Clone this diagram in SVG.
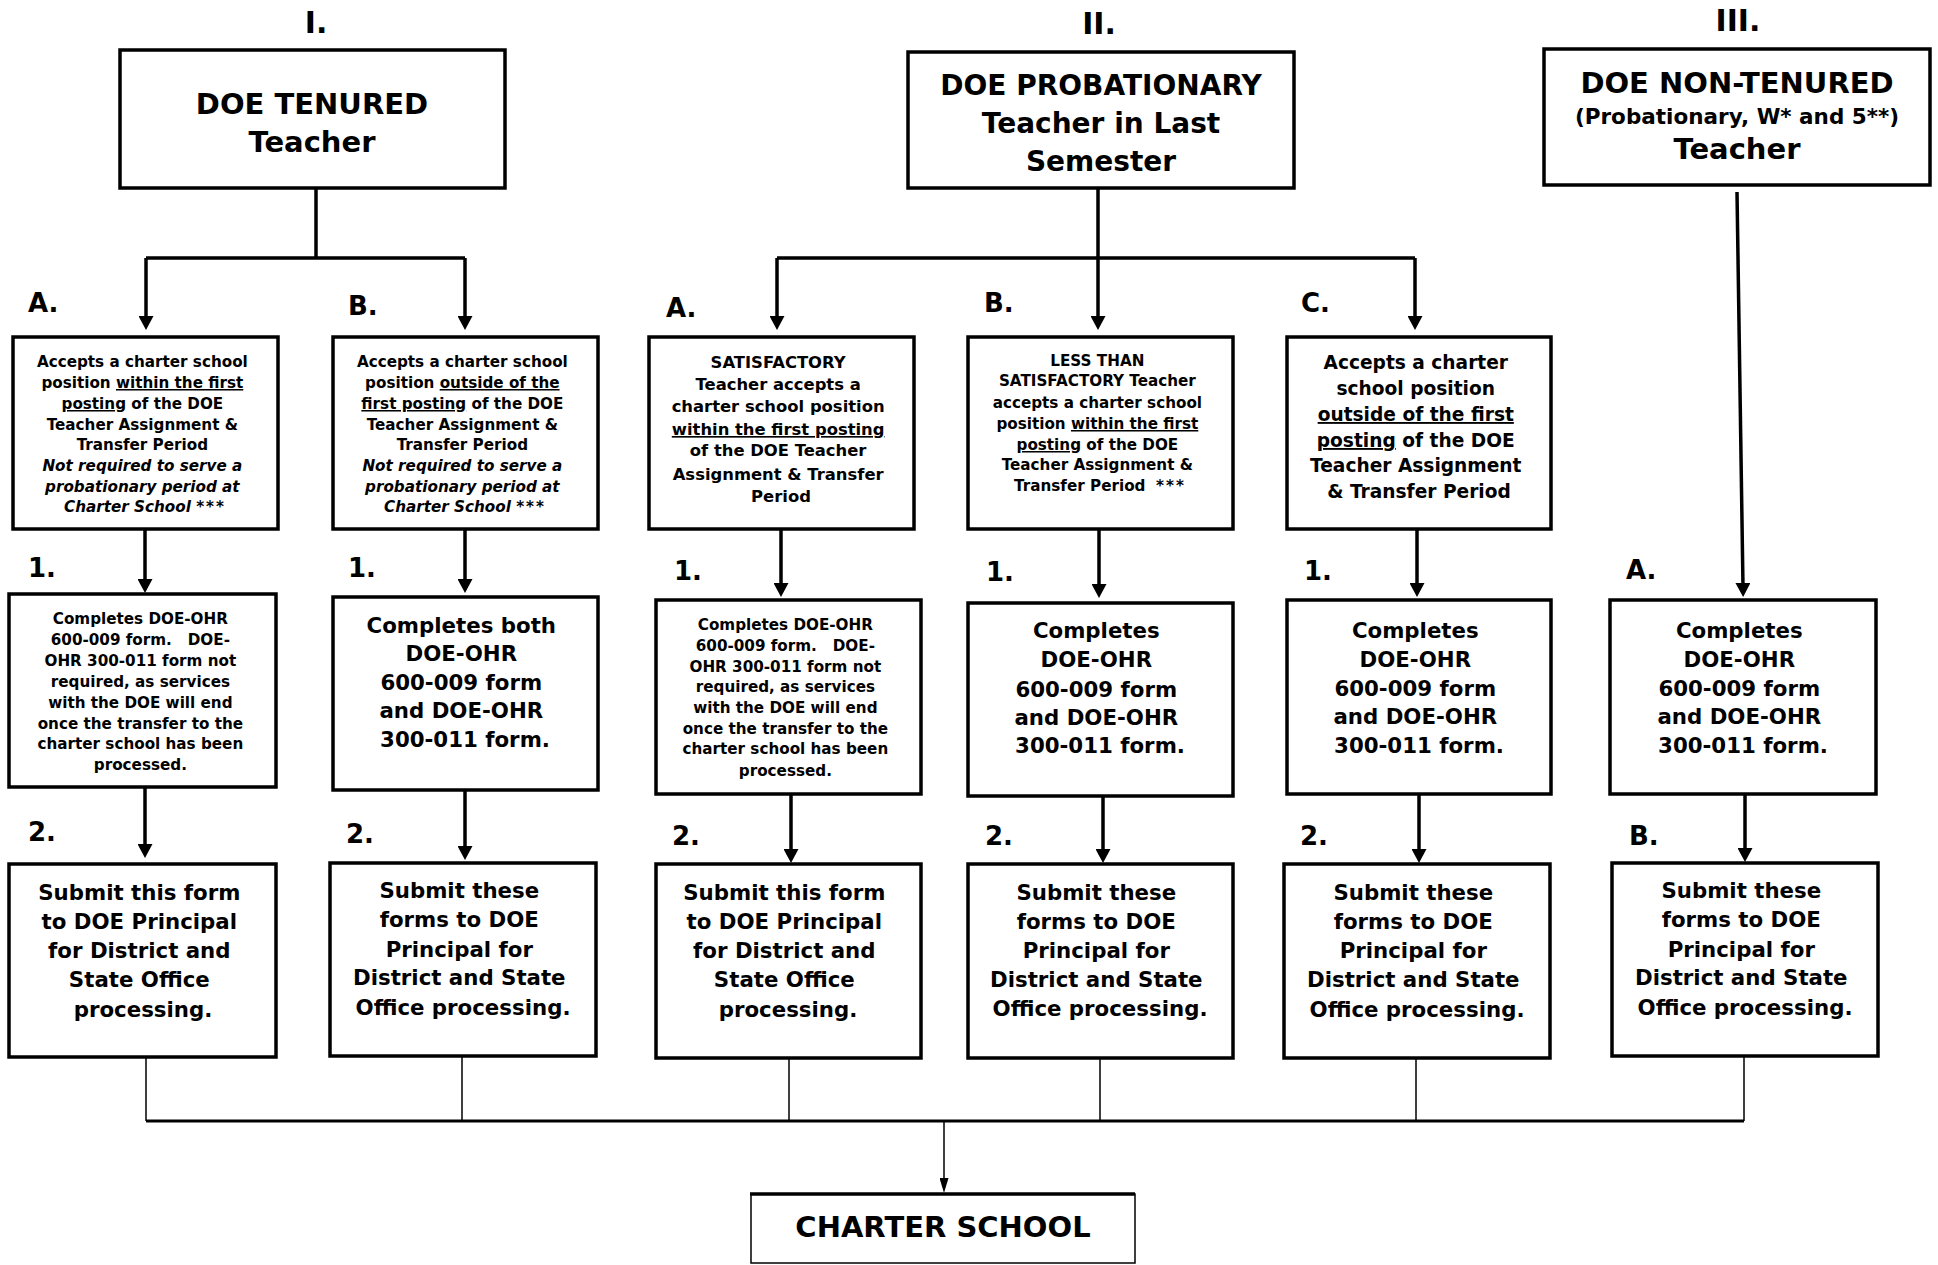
<svg xmlns="http://www.w3.org/2000/svg" width="1938" height="1265" viewBox="0 0 1938 1265">
<style>
.t{font-family:"DejaVu Sans","Liberation Sans",sans-serif;font-weight:bold;text-anchor:middle;fill:#000}
.l{font-family:"DejaVu Sans","Liberation Sans",sans-serif;font-weight:bold;fill:#000;font-size:26px}
.h{font-size:30px}
.big{font-size:29px}
.xs{font-size:15.2px}
.sm{font-size:16.4px}
.md{font-size:18.6px}
.lg{font-size:21.3px}
.i{font-style:italic}
.u{text-decoration:underline}
.st{letter-spacing:2px}
.box{fill:#fff;stroke:#000;stroke-width:3.5}
.thin{fill:#fff;stroke:#000;stroke-width:1.5}
.c{fill:none;stroke:#000;stroke-width:3.5}
.ca{fill:none;stroke:#000;stroke-width:3.5;marker-end:url(#arr)}
.cb{fill:none;stroke:#000;stroke-width:1.5}
</style>
<defs>
<marker id="arr" markerUnits="userSpaceOnUse" markerWidth="14" markerHeight="15" refX="4" refY="7.5" orient="auto"><path d="M0,0 L14,7.5 L0,15 z" fill="#000"/></marker>
<marker id="arr2" markerUnits="userSpaceOnUse" markerWidth="15" markerHeight="9" refX="4" refY="4.5" orient="auto"><path d="M0,0 L15,4.5 L0,9 z" fill="#000"/></marker>
</defs>
<rect width="1938" height="1265" fill="#fff"/>

<g id="connectors">
<path class="c" d="M316,188 V258 M146,258 H465"/>
<path class="ca" d="M146,258 V320"/>
<path class="ca" d="M465,258 V320"/>
<path class="c" d="M1098,188 V258 M777,258 H1415"/>
<path class="ca" d="M777,258 V320"/>
<path class="ca" d="M1098,258 V320"/>
<path class="ca" d="M1415,258 V320"/>
<path class="ca" d="M1737,192 L1743,587"/>
<path class="ca" d="M145,529 V583"/>
<path class="ca" d="M465,529 V583"/>
<path class="ca" d="M781,529 V587"/>
<path class="ca" d="M1099,529 V588"/>
<path class="ca" d="M1417,529 V587"/>
<path class="ca" d="M145,787 V848"/>
<path class="ca" d="M465,790 V850"/>
<path class="ca" d="M791,794 V853"/>
<path class="ca" d="M1103,796 V853"/>
<path class="ca" d="M1419,794 V853"/>
<path class="ca" d="M1745,794 V852"/>
<path class="cb" d="M146,1057 V1121 M462,1056 V1121 M789,1058 V1121 M1100,1058 V1121 M1416,1058 V1121 M1744,1056 V1121"/>
<path class="c" d="M146,1121 H1744" style="stroke-width:3"/>
<path class="cb" d="M944,1121 V1182" style="marker-end:url(#arr2)"/>
</g>

<g id="labels">
<text class="t h" x="316" y="33">I.</text>
<text class="t h" x="1099" y="34">II.</text>
<text class="t h" x="1738" y="31">III.</text>
<text class="l" x="28" y="312">A.</text>
<text class="l" x="348" y="315">B.</text>
<text class="l" x="666" y="317">A.</text>
<text class="l" x="984" y="312">B.</text>
<text class="l" x="1301" y="312">C.</text>
<text class="l" x="28" y="577">1.</text>
<text class="l" x="348" y="577">1.</text>
<text class="l" x="674" y="580">1.</text>
<text class="l" x="986" y="581">1.</text>
<text class="l" x="1304" y="580">1.</text>
<text class="l" x="1626" y="579">A.</text>
<text class="l" x="28" y="841">2.</text>
<text class="l" x="346" y="843">2.</text>
<text class="l" x="672" y="845">2.</text>
<text class="l" x="985" y="845">2.</text>
<text class="l" x="1300" y="845">2.</text>
<text class="l" x="1629" y="845">B.</text>
</g>

<g id="tenured">
<rect class="box" x="120" y="50" width="385" height="138"/>
<text class="t big" x="312" y="114">DOE TENURED</text>
<text class="t big" x="312" y="152">Teacher</text>
</g>

<g id="probationary">
<rect class="box" x="908" y="52" width="386" height="136"/>
<text class="t" style="font-size:28px" x="1101" y="95">DOE PROBATIONARY</text>
<text class="t" style="font-size:28px" x="1101" y="133">Teacher in Last</text>
<text class="t" style="font-size:28px" x="1101" y="171">Semester</text>
</g>

<g id="nontenured">
<rect class="box" x="1544" y="49" width="386" height="136"/>
<text class="t big" x="1737" y="93">DOE NON-TENURED</text>
<text class="t" style="font-size:21.5px" x="1737" y="124">(Probationary, W* and 5**)</text>
<text class="t big" x="1737" y="159">Teacher</text>
</g>

<g id="t-a">
<rect class="box" x="13" y="337" width="265" height="192"/>
<text class="t xs" x="145">
<tspan x="145" y="367">Accepts a charter school</tspan>
<tspan x="145" y="388">position <tspan class="u">within the first</tspan></tspan>
<tspan x="145" y="409"><tspan class="u">posting</tspan> of the DOE</tspan>
<tspan x="145" y="430">Teacher Assignment &amp;</tspan>
<tspan x="145" y="450">Transfer Period</tspan>
<tspan x="145" y="471" class="i">Not required to serve a</tspan>
<tspan x="145" y="492" class="i">probationary period at</tspan>
<tspan x="145" y="512" class="i">Charter School <tspan class="st">***</tspan></tspan>
</text>
</g>

<g id="t-b">
<rect class="box" x="333" y="337" width="265" height="192"/>
<text class="t xs" x="465">
<tspan x="465" y="367">Accepts a charter school</tspan>
<tspan x="465" y="388">position <tspan class="u">outside of the</tspan></tspan>
<tspan x="465" y="409"><tspan class="u">first posting</tspan> of the DOE</tspan>
<tspan x="465" y="430">Teacher Assignment &amp;</tspan>
<tspan x="465" y="450">Transfer Period</tspan>
<tspan x="465" y="471" class="i">Not required to serve a</tspan>
<tspan x="465" y="492" class="i">probationary period at</tspan>
<tspan x="465" y="512" class="i">Charter School <tspan class="st">***</tspan></tspan>
</text>
</g>

<g id="p-a">
<rect class="box" x="649" y="337" width="265" height="192"/>
<text class="t sm" x="781">
<tspan x="781" y="368">SATISFACTORY</tspan>
<tspan x="781" y="390">Teacher accepts a</tspan>
<tspan x="781" y="412">charter school position</tspan>
<tspan x="781" y="435" class="u">within the first posting</tspan>
<tspan x="781" y="456">of the DOE Teacher</tspan>
<tspan x="781" y="480">Assignment &amp; Transfer</tspan>
<tspan x="781" y="502">Period</tspan>
</text>
</g>

<g id="p-b">
<rect class="box" x="968" y="337" width="265" height="192"/>
<text class="t xs" x="1100">
<tspan x="1100" y="366">LESS THAN</tspan>
<tspan x="1100" y="386">SATISFACTORY Teacher</tspan>
<tspan x="1100" y="408">accepts a charter school</tspan>
<tspan x="1100" y="429">position <tspan class="u">within the first</tspan></tspan>
<tspan x="1100" y="450"><tspan class="u">posting</tspan> of the DOE</tspan>
<tspan x="1100" y="470">Teacher Assignment &amp;</tspan>
<tspan x="1100" y="491" style="white-space:pre">Transfer Period  <tspan class="st">***</tspan></tspan>
</text>
</g>

<g id="p-c">
<rect class="box" x="1287" y="337" width="264" height="192"/>
<text class="t md" x="1419">
<tspan x="1419" y="369">Accepts a charter</tspan>
<tspan x="1419" y="395">school position</tspan>
<tspan x="1419" y="421" class="u">outside of the first</tspan>
<tspan x="1419" y="447"><tspan class="u">posting</tspan> of the DOE</tspan>
<tspan x="1419" y="472">Teacher Assignment</tspan>
<tspan x="1419" y="498">&amp; Transfer Period</tspan>
</text>
</g>

<g id="t-a-1">
<rect class="box" x="9" y="594" width="267" height="193"/>
<text class="t xs" x="143" style="white-space:pre">
<tspan x="143" y="624">Completes DOE-OHR</tspan>
<tspan x="143" y="645">600-009 form.   DOE-</tspan>
<tspan x="143" y="666">OHR 300-011 form not</tspan>
<tspan x="143" y="687">required, as services</tspan>
<tspan x="143" y="708">with the DOE will end</tspan>
<tspan x="143" y="729">once the transfer to the</tspan>
<tspan x="143" y="749">charter school has been</tspan>
<tspan x="143" y="770">processed.</tspan>
</text>
</g>

<g id="t-b-1">
<rect class="box" x="333" y="597" width="265" height="193"/>
<text class="t lg" x="465">
<tspan x="465" y="633">Completes both</tspan>
<tspan x="465" y="661">DOE-OHR</tspan>
<tspan x="465" y="690">600-009 form</tspan>
<tspan x="465" y="718">and DOE-OHR</tspan>
<tspan x="465" y="747">300-011 form.</tspan>
</text>
</g>

<g id="p-a-1">
<rect class="box" x="656" y="600" width="265" height="194"/>
<text class="t xs" x="788" style="white-space:pre">
<tspan x="788" y="630">Completes DOE-OHR</tspan>
<tspan x="788" y="651">600-009 form.   DOE-</tspan>
<tspan x="788" y="672">OHR 300-011 form not</tspan>
<tspan x="788" y="692">required, as services</tspan>
<tspan x="788" y="713">with the DOE will end</tspan>
<tspan x="788" y="734">once the transfer to the</tspan>
<tspan x="788" y="754">charter school has been</tspan>
<tspan x="788" y="776">processed.</tspan>
</text>
</g>

<g id="p-b-1">
<rect class="box" x="968" y="603" width="265" height="193"/>
<text class="t lg" x="1100">
<tspan x="1100" y="638">Completes</tspan>
<tspan x="1100" y="667">DOE-OHR</tspan>
<tspan x="1100" y="697">600-009 form</tspan>
<tspan x="1100" y="725">and DOE-OHR</tspan>
<tspan x="1100" y="753">300-011 form.</tspan>
</text>
</g>

<g id="p-c-1">
<rect class="box" x="1287" y="600" width="264" height="194"/>
<text class="t lg" x="1419">
<tspan x="1419" y="638">Completes</tspan>
<tspan x="1419" y="667">DOE-OHR</tspan>
<tspan x="1419" y="696">600-009 form</tspan>
<tspan x="1419" y="724">and DOE-OHR</tspan>
<tspan x="1419" y="753">300-011 form.</tspan>
</text>
</g>

<g id="n-a">
<rect class="box" x="1610" y="600" width="266" height="194"/>
<text class="t lg" x="1743">
<tspan x="1743" y="638">Completes</tspan>
<tspan x="1743" y="667">DOE-OHR</tspan>
<tspan x="1743" y="696">600-009 form</tspan>
<tspan x="1743" y="724">and DOE-OHR</tspan>
<tspan x="1743" y="753">300-011 form.</tspan>
</text>
</g>

<g id="t-a-2">
<rect class="box" x="9" y="864" width="267" height="193"/>
<text class="t lg" x="143">
<tspan x="143" y="900">Submit this form</tspan>
<tspan x="143" y="929">to DOE Principal</tspan>
<tspan x="143" y="958">for District and</tspan>
<tspan x="143" y="987">State Office</tspan>
<tspan x="143" y="1017">processing.</tspan>
</text>
</g>

<g id="t-b-2">
<rect class="box" x="330" y="863" width="266" height="193"/>
<text class="t lg" x="463">
<tspan x="463" y="898">Submit these</tspan>
<tspan x="463" y="927">forms to DOE</tspan>
<tspan x="463" y="957">Principal for</tspan>
<tspan x="463" y="985">District and State</tspan>
<tspan x="463" y="1015">Office processing.</tspan>
</text>
</g>

<g id="p-a-2">
<rect class="box" x="656" y="864" width="265" height="194"/>
<text class="t lg" x="788">
<tspan x="788" y="900">Submit this form</tspan>
<tspan x="788" y="929">to DOE Principal</tspan>
<tspan x="788" y="958">for District and</tspan>
<tspan x="788" y="987">State Office</tspan>
<tspan x="788" y="1017">processing.</tspan>
</text>
</g>

<g id="p-b-2">
<rect class="box" x="968" y="864" width="265" height="194"/>
<text class="t lg" x="1100">
<tspan x="1100" y="900">Submit these</tspan>
<tspan x="1100" y="929">forms to DOE</tspan>
<tspan x="1100" y="958">Principal for</tspan>
<tspan x="1100" y="987">District and State</tspan>
<tspan x="1100" y="1016">Office processing.</tspan>
</text>
</g>

<g id="p-c-2">
<rect class="box" x="1284" y="864" width="266" height="194"/>
<text class="t lg" x="1417">
<tspan x="1417" y="900">Submit these</tspan>
<tspan x="1417" y="929">forms to DOE</tspan>
<tspan x="1417" y="958">Principal for</tspan>
<tspan x="1417" y="987">District and State</tspan>
<tspan x="1417" y="1017">Office processing.</tspan>
</text>
</g>

<g id="n-b">
<rect class="box" x="1612" y="863" width="266" height="193"/>
<text class="t lg" x="1745">
<tspan x="1745" y="898">Submit these</tspan>
<tspan x="1745" y="927">forms to DOE</tspan>
<tspan x="1745" y="957">Principal for</tspan>
<tspan x="1745" y="985">District and State</tspan>
<tspan x="1745" y="1015">Office processing.</tspan>
</text>
</g>

<g id="charter-school">
<rect class="thin" x="751" y="1194" width="384" height="69"/>
<path d="M750,1194 H1135" stroke="#000" stroke-width="3.5"/>
<text class="t big" x="943" y="1237">CHARTER SCHOOL</text>
</g>
</svg>
